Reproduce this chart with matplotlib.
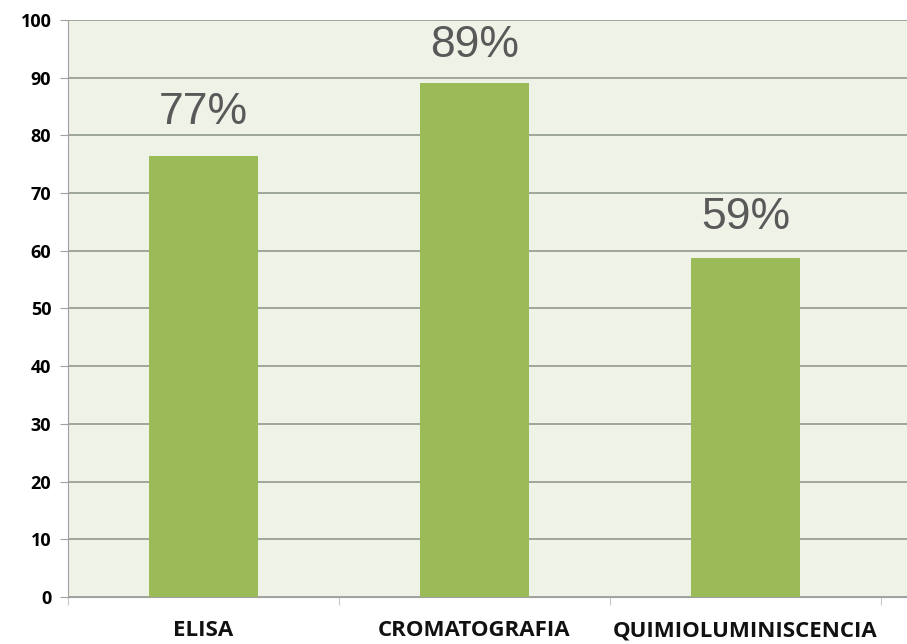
import matplotlib.pyplot as plt
import numpy as np

# ---------- Data ----------
categories = ["ELISA", "CROMATOGRAFIA", "QUIMIOLUMINISCENCIA"]
values = [76.5, 89.0, 58.8]
labels = ["77%", "89%", "59%"]
label_offsets = [7.5, 6.5, 7.0]
y_ticks = [0, 10, 20, 30, 40, 50, 60, 70, 80, 90, 100]

# ---------- Figure ----------
fig = plt.figure(figsize=(9.07, 6.44), dpi=100)
ax = fig.add_axes([0.075, 0.073, 0.925, 0.896])
ax.set_facecolor("#eef2e7")

x = np.arange(len(categories))
ax.bar(x, values, width=0.4, color="#9bbb59", zorder=3)

for xi, v, lab, off in zip(x, values, labels, label_offsets):
    ax.text(xi, v + off, lab, ha="center", va="center",
            fontsize=32, color="#595959", family="Liberation Sans", zorder=4)

ax.set_ylim(0, 100)
ax.set_xlim(-0.5, 2.596)
ax.set_yticks(y_ticks)
ax.set_yticklabels([str(t) for t in y_ticks], fontsize=13, fontweight="bold",
                   family="Open Sans")
ax.yaxis.grid(True, color="#9ea59a", linewidth=1.4, zorder=1)

# category boundaries for tick marks
ax.set_xticks([-0.5, 0.5, 1.5, 2.5])
ax.set_xticklabels([])
ax.tick_params(axis="x", length=6, color="#c8c8c8", direction="out")
ax.tick_params(axis="y", length=6, color="#a0a0a0", pad=6)
for xi, cat in zip(x, categories):
    ax.text(xi, -4.0, cat, ha="center", va="top", fontsize=16,
            fontweight="bold", family="Open Sans", color="#111111")

for side in ["top", "right"]:
    ax.spines[side].set_visible(False)
ax.spines["left"].set_color("#a0a0a0")
ax.spines["bottom"].set_color("#a0a0a0")

fig.savefig("out.png", dpi=100)
